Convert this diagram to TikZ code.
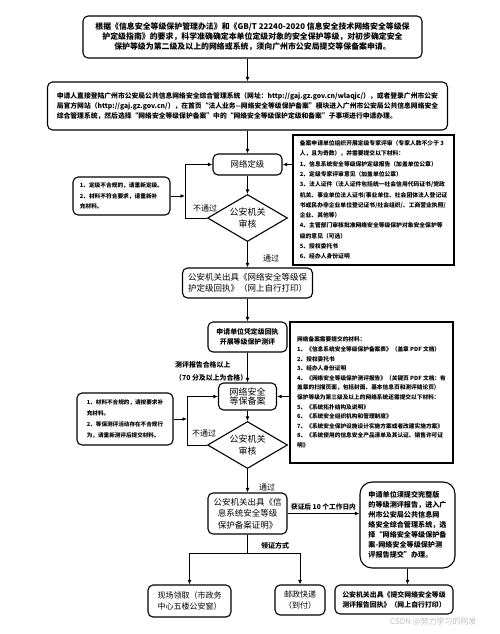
\documentclass[tikz,border=0pt]{standalone}
\usepackage{fontspec}
\setmainfont{Noto Sans CJK SC}
\usetikzlibrary{shapes.geometric,arrows.meta}

\tikzset{
  stepbox/.style={rectangle, draw, line width=1.1pt, rounded corners=5pt, align=center, inner sep=0pt},
  notebox/.style={rectangle, draw, line width=1.1pt, align=left, inner sep=0pt},
  checkbox/.style={diamond, draw, line width=1.1pt, align=center, inner sep=0pt, shape aspect=1.7,
    minimum width=80pt, minimum height=47pt, font=\fontsize{9}{12}\selectfont},
  boxsize/.style 2 args={minimum width=#1pt, minimum height=#2pt},
  txt/.style 2 args={font=\fontsize{#1}{#2}\selectfont},
  btxt/.style 2 args={font=\fontsize{#1}{#2}\selectfont\bfseries},
  flow/.style={-{Latex[length=4.5pt,width=3.8pt]}, line width=0.9pt},
  flowtext/.style={inner sep=1pt, font=\fontsize{8}{10}\selectfont}
}
\newcommand{\flowstep}[4] {\node at (#1) (#2) [stepbox, #3] {#4};}
\newcommand{\flownote}[4] {\node at (#1) (#2) [notebox, #3] {#4};}
\newcommand{\flowcheck}[3] {\node at (#1) (#2) [checkbox] {#3};}
\newcommand{\flowtransition}[2] {\draw [flow] (#1) -- (#2);}

\begin{document}
\begin{tikzpicture}[x=1pt, y=-1pt]
\useasboundingbox (0,0) rectangle (500,634);

\flowstep {252.5,37}{intro}{boxsize={339}{42}, btxt={7.9}{10}}{根据《信息安全等级保护管理办法》和《GB/T 22240-2020 信息安全技术网络安全等级保\\护定级指南》的要求，科学准确确定本单位定级对象的安全保护等级，对初步确定安全\\保护等级为第二级及以上的网络或系统，须向广州市公安局提交等保备案申请。}

\flowstep {247.5,106}{apply}{boxsize={400}{48}, btxt={6.8}{9.7}, align=left}{申请人直接登陆广州市公安局公共信息网络安全综合管理系统（网址：http://gaj.gz.gov.cn/wlaqjc/），或者登录广州市公安\\局官方网站（http://gaj.gz.gov.cn/），在首页“法人业务-{}-网络安全等级保护备案”模块进入广州市公安局公共信息网络安全\\综合管理系统，然后选择“网络安全等级保护备案”中的“网络安全等级保护定级和备案”子事项进行申请办理。}
\flowtransition {intro.south -| apply.north}{apply.north}

\flowstep {247.5,164.5}{grade}{boxsize={69}{21}, txt={8.4}{10}}{网络定级}
\flowtransition {apply}{grade}

\flowcheck {247.5,218}{audit1}{公安机关\\审核}
\flowtransition {grade}{audit1}

\flowstep {121.5,196}{fixgrade}{boxsize={97}{38}, btxt={5.7}{10.5}, align=left}{1、定级不合规的，请重新定级。\\2、材料不符合要求，请重新补\\充材料。}
\coordinate (back1) at (185,218);
\draw [flow] (audit1.west) -- (back1) |- (grade.west);
\draw [flow] (fixgrade.east) -- (fixgrade.east -| back1);
\node (nopass1) [flowtext] at (205,208) {不通过};

\flownote {373.5,200}{gradedocs}{boxsize={161}{130}, btxt={5.8}{10.3}}{备案申请单位组织开展定级专家评审（专家人数不少于 3\\人，且为奇数），并需要提交以下材料：\\1、信息系统安全等级保护定级报告（加盖单位公章）\\2、定级专家评审意见（加盖单位公章）\\3、法人证件（法人证件包括统一社会信用代码证书/党政\\机关、事业单位法人证书/事业单位、社会团体法人登记证\\书或民办非企业单位登记证书/社会组织/、工商营业执照/\\企业、其他等）\\4、主管部门审核批准网络安全等级保护对象安全保护等\\级的意见（可选）\\5、授权委托书\\6、经办人身份证明}
\flowtransition {gradedocs.west |- grade.east}{grade.east}

\flowstep {247.5,283}{gradereceipt}{boxsize={130}{30}, txt={8.5}{11}, align=left}{公安机关出具《网络安全等级保\\护定级回执》（网上自行打印）}
\flowtransition {audit1}{gradereceipt}
\node (pass1) [flowtext] at (271,258) {通过};

\flowstep {247.5,337}{evaluate}{boxsize={79}{30}, btxt={6.9}{10}}{申请单位凭定级回执\\开展等级保护测评}
\flowtransition {gradereceipt}{evaluate}

\flowstep {247.5,396.5}{record}{boxsize={58}{27}, txt={9}{9.8}}{网络安全\\等保备案}
\flowtransition {evaluate}{record}
\node (qualified) [anchor=west, align=left, inner sep=0pt, btxt={6.9}{13}] at (175,371.5) {测评报告合格以上\\（70 分及以上为合格）};

\flownote {371.5,392.5}{recorddocs}{boxsize={163}{141}, btxt={5.7}{9.6}}{网络备案需要提交的材料：\\1、《信息系统安全等级保护备案表》（盖章 PDF 文档）\\2、授权委托书\\3、经办人身份证明\\4、《网络安全等级保护测评报告》（关键页 PDF 文档：有\\盖章的扫描页面，包括封面、基本信息页和测评结论页）\\保护等级为第三级及以上的网络系统还需提交以下材料：\\5、《系统拓扑结构及说明》\\6、《系统安全组织机构和管理制度》\\7、《系统安全保护设施设计实施方案或者改建实施方案》\\8、《系统使用的信息安全产品清单及其认证、销售许可证\\明》}
\flowtransition {recorddocs.west |- record.east}{record.east}

\flowcheck {247.5,445}{audit2}{公安机关\\审核}
\flowtransition {record}{audit2}

\flowstep {125,419}{fixrecord}{boxsize={96}{52}, btxt={5.6}{10.7}, align=left}{1、材料不合规的，请按要求补\\充材料。\\2、等保测评活动存在不合规行\\为，请重新测评后提交材料。}
\coordinate (back2) at (187,445);
\draw [flow] (audit2.west) -- (back2) |- (record.west);
\draw [flow] (fixrecord.east) -- (fixrecord.east -| back2);
\node (nopass2) [flowtext] at (204,433) {不通过};

\flowstep {247.5,513.5}{recordcert}{boxsize={79}{41}, txt={8.5}{11.7}}{公安机关出具《信\\息系统安全等级\\保护备案证明》}
\flowtransition {audit2}{recordcert}
\node (pass2) [flowtext] at (267,487) {通过};

\flowstep {407.5,525}{submit}{boxsize={95}{86}, rounded corners=12pt, btxt={7.1}{10}, align=left}{申请单位须提交完整版\\的等级测评报告，进入广\\州市公安局公共信息网\\络安全综合管理系统，选\\择“网络安全等级保护备\\案-网络安全等级保护测\\评报告提交”办理。}
\draw [flow] (recordcert.east) -- (recordcert.east -| submit.west) node [midway, above=3pt, inner sep=0pt, btxt={6.7}{9}] (within) {获证后 10 个工作日内};

\flowstep {394,599.5}{reportreceipt}{boxsize={118}{29}, btxt={6.9}{10}}{公安机关出具《提交网络安全等级\\测评报告回执》（网上自行打印）}
\flowtransition {submit.south}{submit.south |- reportreceipt.north}

\flowstep {189.5,601}{onsite}{boxsize={83}{32}, txt={8}{11}}{现场领取（市政务\\中心五楼公安窗）}
\flowstep {300,600}{mail}{boxsize={50}{30}, txt={8}{11}}{邮政快递\\（到付）}
\coordinate (split) at (247.5,553);
\draw [line width=0.9pt] (recordcert.south) -- (split);
\draw [flow] (split) -| (onsite.north);
\draw [flow] (split) -| (mail.north);
\node (collect) [flowtext, btxt={7}{9}] at (275,546) {领证方式};

\node (mark) [anchor=west, inner sep=0pt, text=black!25, txt={8}{10}] at (390,622) {CSDN @努力学习的阿发};

\end{tikzpicture}
\end{document}
